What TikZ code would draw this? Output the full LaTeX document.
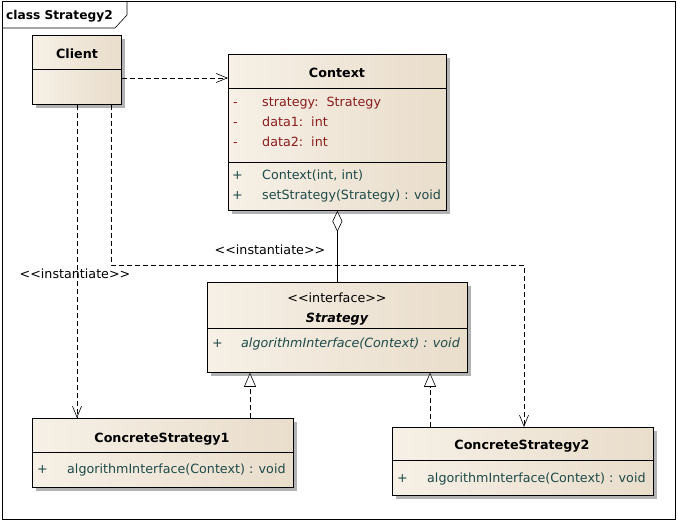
\documentclass[tikz,border=0pt]{standalone}
\usepackage{fontspec}
\setmainfont{DejaVu Sans}
\usetikzlibrary{arrows.meta,shadows}
\definecolor{boxL}{HTML}{F6F0E6}
\definecolor{boxR}{HTML}{E9DDCB}
\definecolor{attrc}{HTML}{8A1C1C}
\definecolor{methc}{HTML}{1E4A4A}
\newcommand{\umlfont}{\fontsize{12.7}{15}\selectfont}
\tikzset{
  umlbox/.style={draw=black, line width=0.8pt, left color=boxL, right color=boxR,
    rectangle, inner sep=0pt, anchor=north west,
    general shadow={fill=black!30, shadow xshift=4pt, shadow yshift=-4pt}},
  txt/.style={inner sep=0pt, font=\umlfont, yshift=-2.5pt},
  ttl/.style={txt, font=\umlfont\bfseries, anchor=mid},
  lft/.style={txt, anchor=mid west},
  attr/.style={lft, text=attrc},
  meth/.style={lft, text=methc},
  dep/.style={draw=black, line width=0.6pt, dash pattern=on 5pt off 3pt,
    -{Straight Barb[length=11pt,width=9pt,line width=0.6pt]}},
  realize/.style={draw=black, line width=0.6pt, dash pattern=on 5pt off 3pt,
    -{Triangle[open,fill=white,length=14pt,width=12pt,line width=0.6pt]}},
  divider/.style={draw=black, line width=0.6pt},
}
\begin{document}
\begin{tikzpicture}[x=1pt,y=-1pt]
\useasboundingbox (0,0) rectangle (678,521);
\fill[white] (0,0) rectangle (678,521);

% diagram frame with its name tab
\draw[line width=0.6pt] (2,1) rectangle (675,519);
\draw[line width=0.6pt] (2,28) -- (115,28) -- (127,15) -- (127,1);
\node[txt, font=\fontsize{12.2}{15}\selectfont\bfseries, anchor=mid west] (frametitle) at (6,14) {class Strategy2};

% Client
\node[umlbox, minimum width=89pt, minimum height=69pt] (client) at (32,35) {};
\draw[divider] (32,69) -- (121,69);
\node[ttl] (clientname) at (77,53) {Client};

% Context
\node[umlbox, minimum width=218pt, minimum height=156pt] (context) at (228,54) {};
\draw[divider] (228,88) -- (446,88);
\draw[divider] (228,162) -- (446,162);
\node[ttl] (contextname) at (337,72) {Context};
\node[attr] (a1m) at (233,101) {-};
\node[attr] (a1) at (262,101) {strategy:\ \ Strategy};
\node[attr] (a2m) at (233,121) {-};
\node[attr] (a2) at (262,121) {data1:\ \ int};
\node[attr] (a3m) at (233,141) {-};
\node[attr] (a3) at (262,141) {data2:\ \ int};
\node[meth] (m1p) at (232,174) {+};
\node[meth] (m1) at (262,174) {Context(int, int)};
\node[meth] (m2p) at (232,194) {+};
\node[meth] (m2) at (262,194) {setStrategy(Strategy) : void};

% Strategy interface
\node[umlbox, minimum width=260pt, minimum height=90pt] (strategy) at (207,282) {};
\draw[divider] (207,328) -- (467,328);
\node[txt, anchor=mid] (stereo) at (337,297) {<{}<interface>{}>};
\node[ttl, font=\umlfont\bfseries\itshape] (strategyname) at (337,317) {Strategy};
\node[meth] (s1p) at (212,342) {+};
\node[meth, font=\umlfont\itshape] (s1) at (241,342) {algorithmInterface(Context) : void};

% ConcreteStrategy1
\node[umlbox, minimum width=261pt, minimum height=69pt] (cs1) at (32,418) {};
\draw[divider] (32,452) -- (293,452);
\node[ttl] (cs1name) at (162,437) {ConcreteStrategy1};
\node[meth] (c1p) at (37,468) {+};
\node[meth] (c1) at (67,468) {algorithmInterface(Context) : void};

% ConcreteStrategy2
\node[umlbox, minimum width=261pt, minimum height=68pt] (cs2) at (392,427) {};
\draw[divider] (392,460) -- (653,460);
\node[ttl] (cs2name) at (522,444) {ConcreteStrategy2};
\node[meth] (c2p) at (397,477) {+};
\node[meth] (c2) at (427,477) {algorithmInterface(Context) : void};

% connector routing columns and rows
\coordinate (row78) at (0,78);
\coordinate (col77) at (77,0);
\coordinate (col111) at (111,0);
\coordinate (col250) at (250,0);
\coordinate (col430) at (430,0);
\coordinate (col524) at (524,0);
\coordinate (bend1) at (111,265);
\coordinate (bend2) at (524,265);

% dependencies
\draw[dep] (client.east |- row78) -- (context.west |- row78);
\draw[dep] (client.south -| col77) -- (cs1.north -| col77);
\draw[dep] (client.south -| col111) -- (bend1) -- (bend2) -- (cs2.north -| col524);
\node[txt, anchor=mid] (inst1) at (75,273) {<{}<instantiate>{}>};
\node[txt, anchor=mid] (inst2) at (270,249) {<{}<instantiate>{}>};

% aggregation
\draw[line width=0.6pt, {Diamond[open,fill=white,length=21pt,width=10pt,line width=0.6pt]}-] (context.south) -- (strategy.north);

% realizations
\draw[realize] (cs1.north -| col250) -- (strategy.south -| col250);
\draw[realize] (cs2.north -| col430) -- (strategy.south -| col430);
\end{tikzpicture}
\end{document}
